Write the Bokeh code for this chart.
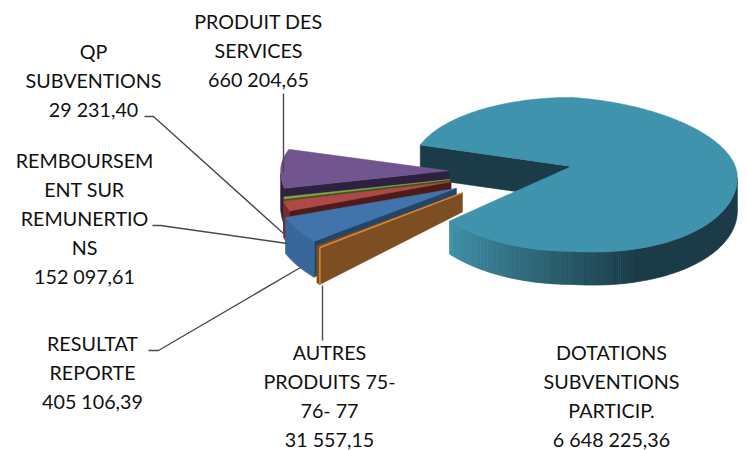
import math
from bokeh.plotting import figure
from bokeh.models import Range1d
from bokeh.core.properties import value
from bokeh.embed import file_html
from bokeh.resources import INLINE

# Data, in the chart's clockwise order
categories = ["DOTATIONS SUBVENTIONS PARTICIP.", "AUTRES PRODUITS 75-76-77", "RESULTAT REPORTE",
              "REMBOURSEMENT SUR REMUNERTIONS", "QP SUBVENTIONS", "PRODUIT DES SERVICES"]
amounts = [6648225.36, 31557.15, 405106.39, 152097.61, 29231.40, 660204.65]
label_lines = [
    ["DOTATIONS", "SUBVENTIONS", "PARTICIP.", "6 648 225,36"],
    ["AUTRES", "PRODUITS 75-", "76- 77", "31 557,15"],
    ["RESULTAT", "REPORTE", "405 106,39"],
    ["REMBOURSEM", "ENT SUR", "REMUNERTIO", "NS", "152 097,61"],
    ["QP", "SUBVENTIONS", "29 231,40"],
    ["PRODUIT DES", "SERVICES", "660 204,65"],
]
top_colors = ["#3f93ac", "#7d4e22", "#4274ac", "#ad4a48", "#86a545", "#70558e"]
cut_colors = ["#1a3b47", "#7d4e22", "#254568", "#4f1b1a", "#3f5020", "#2d2040"]
arc_colors = ["#1a3b47", "#7d4e22", "#38689a", "#7a2a2a", "#3f5020", "#2d2040"]

# Layout
WIDTH, HEIGHT = 747, 450
START_DEG = 161.9           # main slice starts here, going clockwise (math angles)
CX, CY, EXPLODE, YF = 510.0, 172.0, 62.0, 0.52
RX = [166, 186, 182, 172, 170, 168]
RX_LEFT = [159, 186, 182, 172, 170, 168]
RY_UP, RY_DN = 69.0, 85.0
RIGHT_DROP = 11.0
DEPTH_OUT = [33, 37, 36, 36, 36, 36]
DEPTH_APEX = [33, 19, 18, 18, 18, 18]
FONT = "Lato"
FONT_PX = "19.7px"
LINE_H = 29.0
LABEL_POS = [(611, 352), (329, 352), (92, 343), (84, 160), (93, 51), (258, 21)]
LEADERS = [
    ([322, 322], [340, 285]),
    ([148, 158, 300], [350, 350, 267]),
    ([152, 160, 287], [225, 225, 243]),
    ([144, 153, 283], [116, 116, 233]),
    ([283, 283], [93, 172]),
]

p = figure(width=WIDTH, height=HEIGHT, output_backend="svg", toolbar_location=None,
           x_range=Range1d(0, WIDTH), y_range=Range1d(HEIGHT, 0),
           min_border=0, outline_line_color=None, background_fill_color="white",
           border_fill_color="white")
p.xaxis.visible = False
p.yaxis.visible = False
p.grid.visible = False

total = sum(amounts)
spans, a = [], START_DEG
for v in amounts:
    d = 360.0 * v / total
    spans.append((a - d, a))
    a -= d


def apex(i):
    lo, hi = spans[i]
    m = math.radians((lo + hi) / 2)
    return CX + EXPLODE * math.cos(m), CY - EXPLODE * YF * math.sin(m)


def rim(i, deg):
    ax, ay = apex(i)
    t = math.radians(deg)
    s, c = math.sin(t), math.cos(t)
    rx = RX[i] if c > 0 else RX_LEFT[i]
    return (ax + rx * c, ay + RIGHT_DROP * max(0.0, c) - (RY_UP if s > 0 else RY_DN) * s)


def arc_degs(lo, hi, n=None):
    n = n or max(2, int((hi - lo) / 2) + 1)
    return [lo + (hi - lo) * k / n for k in range(n + 1)]


def mix(c1, c2, f):
    a1 = [int(c1[j:j + 2], 16) for j in (1, 3, 5)]
    a2 = [int(c2[j:j + 2], 16) for j in (1, 3, 5)]
    return "#%02x%02x%02x" % tuple(round(x + (y - x) * f) for x, y in zip(a1, a2))


def wall(i, degs, col):
    top = [rim(i, d) for d in degs]
    xs = [q[0] for q in top] + [q[0] for q in reversed(top)]
    ys = [q[1] for q in top] + [q[1] + DEPTH_OUT[i] for q in reversed(top)]
    p.patch(xs, ys, fill_color=col, line_color=col, line_width=0.7)


def draw_slice(i):
    lo, hi = spans[i]
    ax, ay = apex(i)
    # wall of the lower cut edge, visible from the viewer
    rx_, ry_ = rim(i, hi)
    p.patch([ax, rx_, rx_, ax], [ay, ry_, ry_ + DEPTH_OUT[i], ay + DEPTH_APEX[i]],
            fill_color=cut_colors[i], line_color=cut_colors[i], line_width=0.5)
    # outer wall, lower half only
    degs = arc_degs(lo, hi, 400 if i == 0 else None)
    run, run_col = [], None
    for d in degs:
        if math.sin(math.radians(d)) > 0.001:
            continue
        col = arc_colors[i]
        if i == 0:  # lit from the left: shade along the arc
            th = (d + 360) % 360
            col = mix("#3f90a8", "#1a3b47", min(1.0, max(0.0, (th - 220) / 72)))
        if run and col != run_col:
            wall(i, run + [d], run_col)
            run = []
        run.append(d)
        run_col = col
    if len(run) > 1:
        wall(i, run, run_col)
    # top face
    pts = [rim(i, d) for d in degs]
    xs = [ax] + [q[0] for q in pts]
    ys = [ay] + [q[1] for q in pts]
    p.patch(xs, ys, fill_color=top_colors[i], line_color=top_colors[i], line_width=0.5)


draw_slice(0)
for i in (5, 4, 3, 2, 1):
    draw_slice(i)

# thin lit edge of the narrow brown slice
ox, oy = apex(1)
ex, ey = rim(1, spans[1][1])
p.line([ox, ex], [oy, ey], line_color="#e08a30", line_width=1.4)
p.line([ex, ex], [ey, ey + DEPTH_OUT[1]], line_color="#e08a30", line_width=1.4)

for xs, ys in LEADERS:
    p.line(xs, ys, line_color="#4a4a4a", line_width=1.4)

for lines, (lx, ly) in zip(label_lines, LABEL_POS):
    p.text([lx] * len(lines), [ly + LINE_H * k for k in range(len(lines))], text=lines,
           text_font=value(FONT), text_font_size=value(FONT_PX), text_color="#111111",
           text_align="center", text_baseline="middle")

open("out.html", "w").write(file_html(p, INLINE))
